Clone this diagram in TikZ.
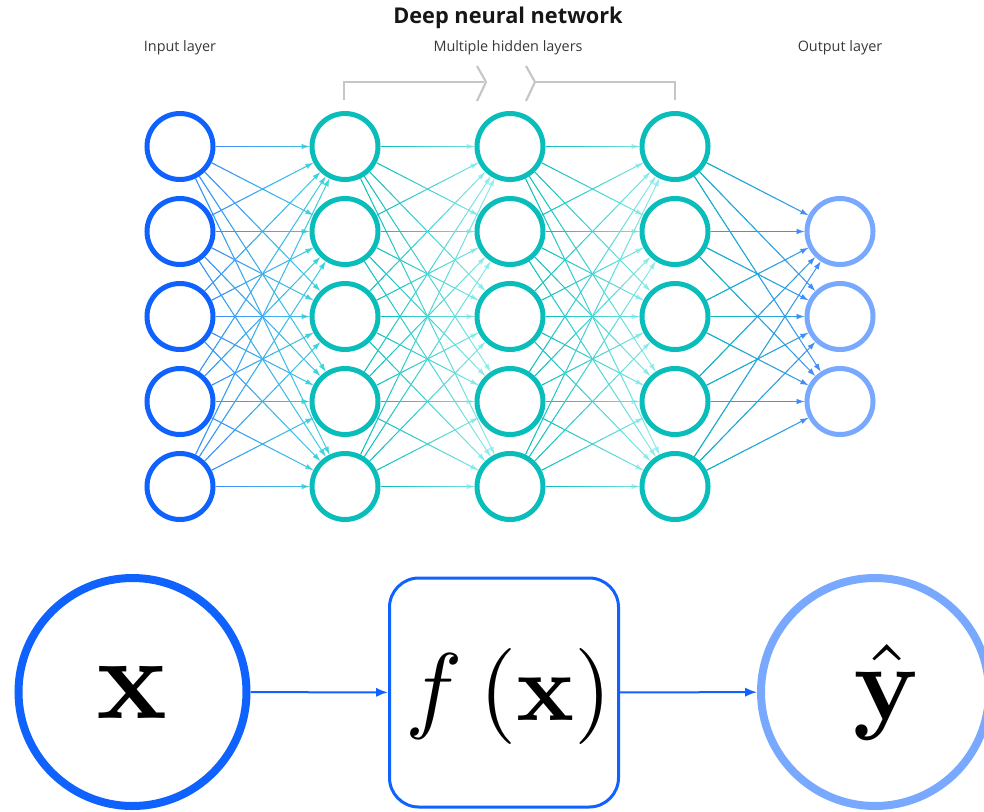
\documentclass[tikz,border=0pt]{standalone}
\usepackage[no-math]{fontspec}
\newfontfamily\labelfont{Open Sans}
\usetikzlibrary{arrows.meta,fadings}

\definecolor{nodeblue}{HTML}{0F62FE}
\definecolor{nodelight}{HTML}{78A9FF}
\definecolor{nodeteal}{HTML}{08BDBA}
\definecolor{edgeblue}{HTML}{4589FF}
\definecolor{edgecyan}{HTML}{3DDBD9}
\definecolor{edgepale}{HTML}{9EF0F0}
\definecolor{bracketgray}{HTML}{C6C6C6}
\definecolor{titleink}{HTML}{161616}
\definecolor{labelink}{HTML}{393939}

% fading used to blend each connector from its start colour to its end colour
\tikzfading[name=fadetoright, left color=transparent!0, right color=transparent!100]

% large formula: set at 10pt, then enlarged by #1
\newcommand\bigmath[2]{\scalebox{#1}{$#2$}}

\tikzset{
  neuron/.style={circle, minimum size=49.5pt, inner sep=0pt, line width=3.75pt},
  inneuron/.style={neuron, draw=nodeblue},
  hidneuron/.style={neuron, draw=nodeteal},
  outneuron/.style={neuron, draw=nodelight},
  wire/.style={line width=0.7pt},
  wiretip/.style={-{Latex[length=6pt,width=4.2pt]}},
  layerlabel/.style={font=\labelfont\fontsize{10.8}{13}\selectfont, text=labelink},
  bigcircle/.style={circle, minimum size=171pt, inner sep=0pt, line width=6pt},
  flow/.style={line width=1.5pt, draw=nodeblue, -{Latex[length=9pt,width=7pt]}},
  mathtext/.style={inner sep=0pt}
}

% connector with a colour gradient: #1 -> #2, from colour #3 to colour #4
\newcommand\nnwire[4]{%
  \draw[wire, draw=#4, wiretip] (#1) -- (#2);
  \draw[wire, draw=#3, path fading=fadetoright] (#1) -- (#2) +(0,3);
}

\begin{document}
\begin{tikzpicture}[x=0.75pt, y=-0.75pt]
  \useasboundingbox (0,0) rectangle (984,811);

  % titles
  \node[font=\labelfont\bfseries\fontsize{16.3}{19}\selectfont, text=titleink] (title) at (508,17.5) {Deep neural network};
  \node[layerlabel] (lblin) at (180,48) {Input layer};
  \node[layerlabel] (lblhid) at (508,48) {Multiple hidden layers};
  \node[layerlabel] (lblout) at (840,48) {Output layer};

  % bracket over the hidden layers
  \draw[bracketgray, line width=1.1pt] (344,100) -- (344,82) -- (484,82);
  \draw[bracketgray, line width=1.1pt] (535,82) -- (675,82) -- (675,100);
  \draw[bracketgray, line width=1.6pt] (477,66) -- (486,82) -- (477,101);
  \draw[bracketgray, line width=1.6pt] (526,66) -- (535,82) -- (526,101);

  % neurons
  \foreach \r/\y in {1/146.5,2/231.5,3/316.5,4/401.5,5/486.5}{
    \node[inneuron]  (i\r) at (180,\y) {};
    \node[hidneuron] (a\r) at (345,\y) {};
    \node[hidneuron] (b\r) at (510,\y) {};
    \node[hidneuron] (c\r) at (675,\y) {};
  }
  \foreach \r/\y in {1/231.5,2/316.5,3/401.5}{
    \node[outneuron] (o\r) at (840,\y) {};
  }

  % connections between consecutive layers
  \foreach \s in {1,...,5}{
    \foreach \t in {1,...,5}{
      \nnwire{i\s}{a\t}{edgeblue}{edgecyan}
      \nnwire{a\s}{b\t}{nodeteal}{edgepale}
      \nnwire{b\s}{c\t}{nodeteal}{edgepale}
    }
    \foreach \t in {1,2,3}{
      \nnwire{c\s}{o\t}{nodeteal}{edgeblue}
    }
  }

  % compact view: input -> function -> prediction
  \node[bigcircle, draw=nodeblue] (xin) at (132.5,692) {};
  \node[mathtext] (xtext) at (132.5,692.5) {\bigmath{8.8}{\mathbf{x}}};
  \node[draw=nodeblue, line width=2.25pt, rounded corners=22pt, minimum width=171.75pt, minimum height=171.75pt, inner sep=0pt] (fx) at (504,692.5) {};
  \node[mathtext] (fxtext) at (509,696) {\bigmath{7.2}{f\,(\mathbf{x})}};
  \node[bigcircle, draw=nodelight] (yhat) at (875,692) {};
  \node[mathtext] (yhattext) at (887,692.5) {\bigmath{8.0}{\hat{\mathbf{y}}}};
  \draw[flow] (xin) -- (fx);
  \draw[flow] (fx) -- (yhat);
\end{tikzpicture}
\end{document}
